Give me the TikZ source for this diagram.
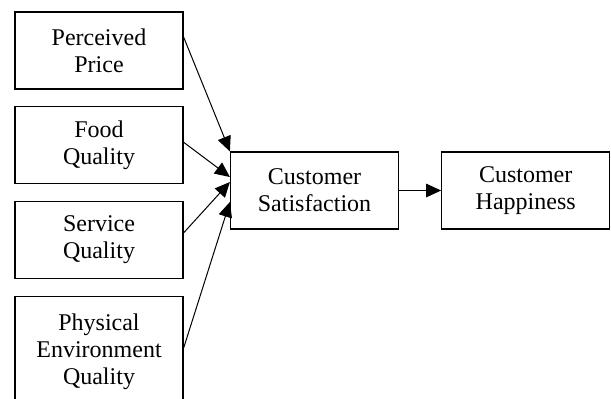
\documentclass[tikz,border=0pt]{standalone}
\usepackage{fontspec}
\setmainfont{Liberation Serif}
\usetikzlibrary{positioning,arrows.meta}
\tikzset{
factor/.style={
draw,
line width=0.6pt,
minimum width=84pt,
minimum height=38.5pt,
inner sep=0pt,
align=center,
font=\fontsize{12}{13.5}\selectfont
},
arrow/.style={
-{Triangle[length=7.5pt,width=6.8pt]},
line width=0.5pt
}
}

\begin{document}
\begin{tikzpicture}[x=0.5pt,y=-0.5pt,node distance=8.25pt]
\useasboundingbox (0,0) rectangle (611,398);
\node[factor] (price) at (99,50.5) {Perceived\\Price};
\node[factor,below=of price] (food) {Food\\Quality};
\node[factor,below=of food] (service) {Service\\Quality};
\node[factor,below=of service,minimum height=56pt] (env) {Physical\\Environment\\Quality};
\node[factor] (sat) at (314.5,190.5) {Customer\\Satisfaction};
\node[factor,right=21pt of sat] (happy) {Customer\\Happiness};

\draw[arrow] ([yshift=6.75pt]price.east) -- (sat.north west);
\foreach \src/\up/\tip in {food/1.5/6.75,service/3.5/4.25,env/2/-5.75}
\draw[arrow] ([yshift=\up pt]\src.east) -- ([yshift=\tip pt]sat.west);
\draw[arrow] (sat) -- (happy);
\end{tikzpicture}
\end{document}
